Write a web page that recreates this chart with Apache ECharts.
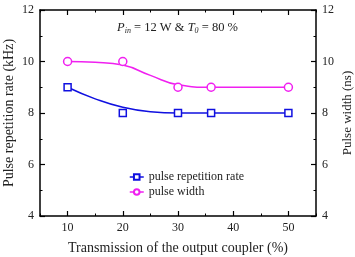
<!DOCTYPE html>
<html>
<head>
    <meta charset="utf-8">
    <title>ECharts</title>
    <script type="text/javascript" src="https://cdn.jsdelivr.net/npm/echarts@6/dist/echarts.min.js"></script>
</head>
<body style="margin:0">
    <div id="main" style="width: 355px;height:257px;"></div>
    <script type="text/javascript">
        // measured points
        var transmission = [10, 20, 30, 36, 50];
        var repRate = [9, 8, 8, 8, 8];
        var pulseWidth = [10, 10, 9, 9, 9];
        // fitted curves
        var fitX = [10, 15, 20, 25, 30, 36, 50];
        var repRateFit = [9, 8.55, 8.22, 8.05, 8.0, 8.0, 8.0];
        var widthFit = [10, 9.97, 9.86, 9.46, 9.1, 9.0, 9.0];
        var majorX = [10, 20, 30, 40, 50];

        var blue = '#1010e0';
        var magenta = '#f020f0';
        var font = 'Liberation Serif';

        function pairs(xs, ys) {
            return xs.map(function (x, i) { return [x, ys[i]]; });
        }

        var myChart = echarts.init(document.getElementById('main'));

        var axisLine = { show: true, lineStyle: { color: '#000', width: 1.5 } };
        var yBase = {
            type: 'value', min: 4, max: 12, interval: 2,
            axisLine: axisLine,
            axisTick: { show: true, inside: true, length: 5, lineStyle: { color: '#000', width: 1.2 } },
            minorTick: { show: true, splitNumber: 2, length: 2.5, lineStyle: { color: '#000', width: 1 } },
            splitLine: { show: false },
            axisLabel: { color: '#222', fontFamily: font, fontSize: 12, margin: 6 },
            nameLocation: 'middle',
            nameMoveOverlap: false
        };
        function xMajor(pos, labels) {
            return {
                type: 'value', position: pos, min: 5, max: 55, interval: 5,
                axisLine: axisLine,
                axisTick: { show: true, inside: true, length: 5, customValues: majorX, lineStyle: { color: '#000', width: 1.2 } },
                axisLabel: labels ? { show: true, customValues: majorX, color: '#222', fontFamily: font, fontSize: 12, margin: 6 } : { show: false },
                splitLine: { show: false }
            };
        }
        function xMinor(pos) {
            return {
                type: 'value', position: pos, min: 5, max: 55, interval: 5,
                axisLine: { show: false },
                axisTick: { show: true, inside: true, length: 2.5, lineStyle: { color: '#000', width: 1 } },
                axisLabel: { show: false },
                splitLine: { show: false }
            };
        }

        var xBottom = xMajor('bottom', true);
        xBottom.name = 'Transmission of the output coupler (%)';
        xBottom.nameLocation = 'middle';
        xBottom.nameGap = 25;
        xBottom.nameTextStyle = { color: '#222', fontFamily: font, fontSize: 14 };

        var option = {
            animation: false,
            grid: { left: 40, right: 39, top: 10, bottom: 41, outerBoundsMode: 'none' },
            title: {
                text: '{i|P}{s|in}{n| = 12 W & }{i|T}{s|0}{n| = 80 %}',
                left: 'center',
                top: 16,
                textStyle: {
                    rich: {
                        n: { fontFamily: font, fontSize: 12.5, fontWeight: 'normal', color: '#222' },
                        i: { fontFamily: font, fontSize: 12.5, fontWeight: 'normal', fontStyle: 'italic', color: '#222' },
                        s: { fontFamily: font, fontSize: 8, fontWeight: 'normal', fontStyle: 'italic', color: '#222', padding: [6, 0, 0, 0] }
                    }
                }
            },
            legend: {
                orient: 'vertical',
                left: 124,
                top: 166,
                itemGap: 3,
                itemWidth: 14,
                itemHeight: 7,
                textStyle: { fontFamily: font, fontSize: 12, color: '#222' },
                data: [
                    { name: 'pulse repetition rate', lineStyle: { color: blue, width: 1.5, opacity: 1 } },
                    { name: 'pulse width', lineStyle: { color: magenta, width: 1.5, opacity: 1 } }
                ]
            },
            xAxis: [xBottom, xMinor('bottom'), xMajor('top', false), xMinor('top')],
            yAxis: [
                Object.assign({}, yBase, {
                    position: 'left', name: 'Pulse repetition rate (kHz)', nameGap: 24,
                    nameTextStyle: { color: '#222', fontFamily: font, fontSize: 14 }
                }),
                Object.assign({}, yBase, {
                    position: 'right', name: 'Pulse width (ns)', nameGap: 25,
                    nameTextStyle: { color: '#222', fontFamily: font, fontSize: 13 }
                })
            ],
            series: [
                {
                    name: 'pulse repetition rate', type: 'line',
                    data: pairs(transmission, repRate),
                    symbol: 'rect', symbolSize: 7,
                    itemStyle: { color: '#fff', borderColor: blue, borderWidth: 1.5 },
                    lineStyle: { opacity: 0 }, z: 3
                },
                {
                    name: 'rate fit', type: 'line', smooth: true, showSymbol: false,
                    data: pairs(fitX, repRateFit),
                    lineStyle: { color: blue, width: 1.5 }, z: 2
                },
                {
                    name: 'pulse width', type: 'line', yAxisIndex: 1,
                    data: pairs(transmission, pulseWidth),
                    symbol: 'circle', symbolSize: 8,
                    itemStyle: { color: '#fff', borderColor: magenta, borderWidth: 1.5 },
                    lineStyle: { opacity: 0 }, z: 3
                },
                {
                    name: 'width fit', type: 'line', yAxisIndex: 1, smooth: true, showSymbol: false,
                    data: pairs(fitX, widthFit),
                    lineStyle: { color: magenta, width: 1.5 }, z: 2
                }
            ]
        };

        myChart.setOption(option);
    </script>
</body>
</html>
